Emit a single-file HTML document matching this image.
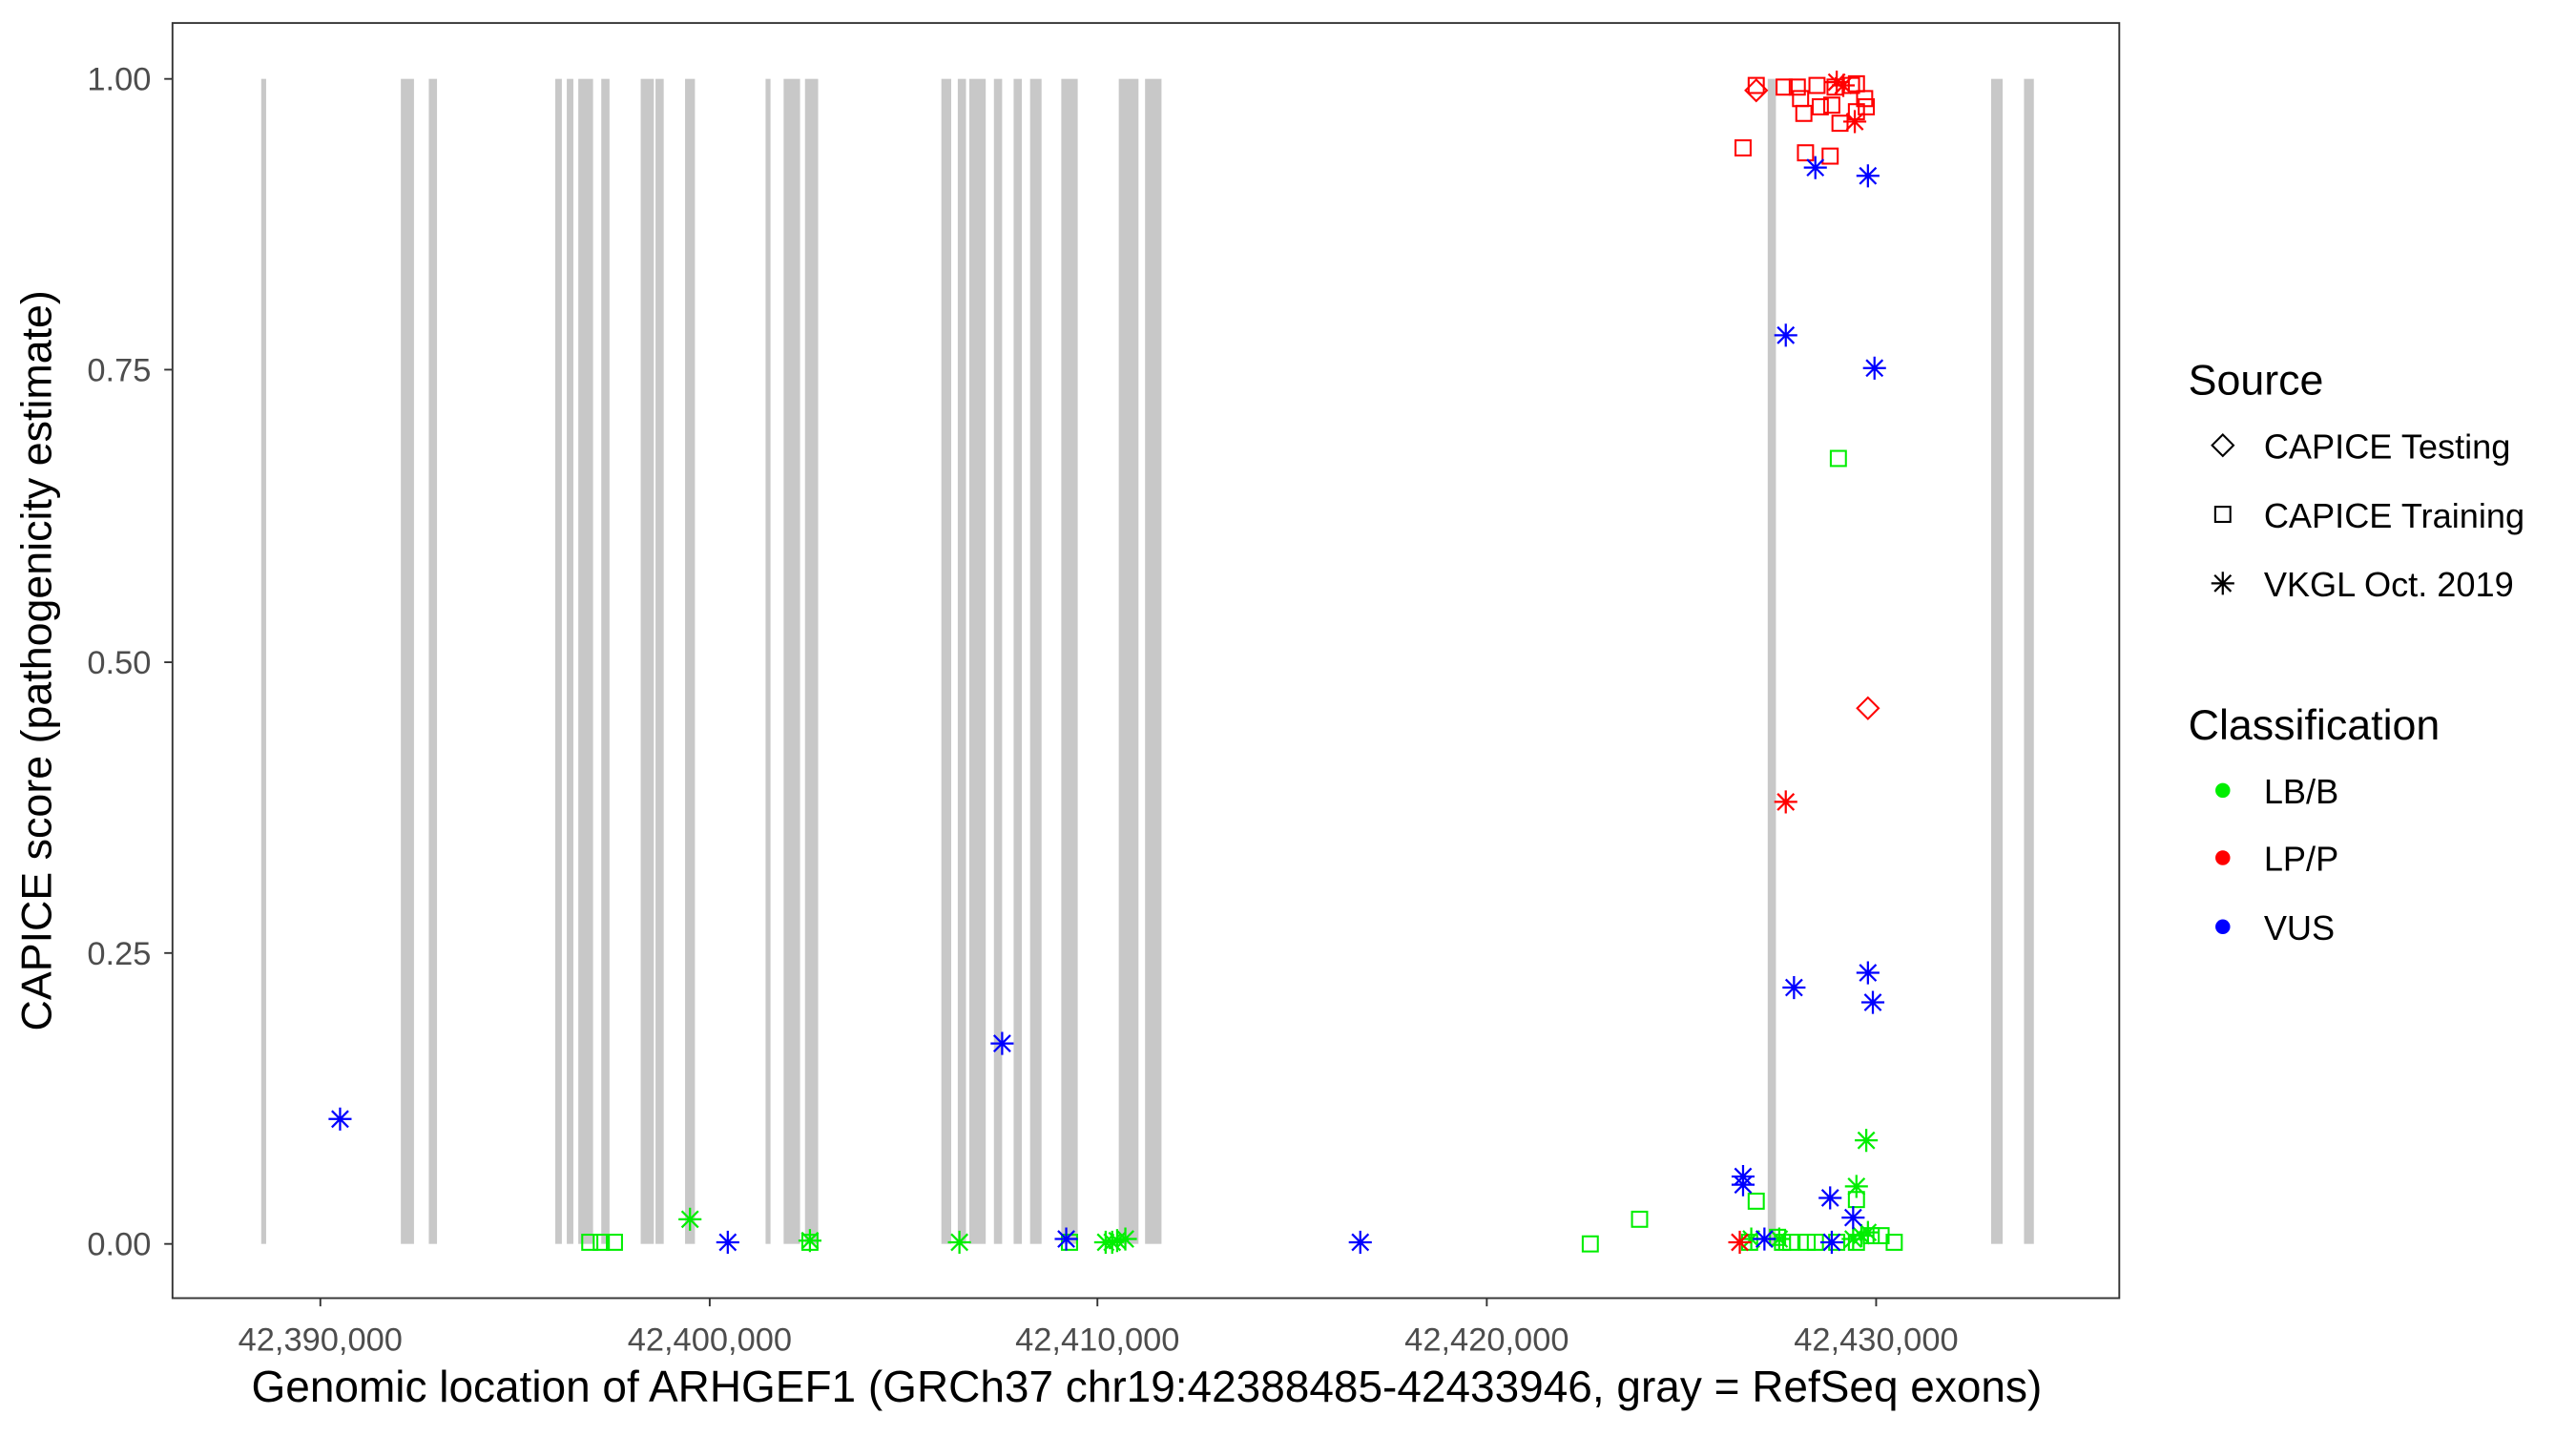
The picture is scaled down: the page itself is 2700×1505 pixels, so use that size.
<!DOCTYPE html>
<html><head><style>html,body{margin:0;padding:0;background:#fff}</style></head>
<body>
<svg width="2700" height="1500" viewBox="0 0 1568 871" preserveAspectRatio="none" xmlns="http://www.w3.org/2000/svg" font-family="Liberation Sans, sans-serif">
<defs>
<g id="ast"><path d="M-7,0H7M0,-7V7M-5,-5L5,5M-5,5L5,-5" stroke-width="1.3" fill="none"/></g>
<g id="sq"><rect x="-4.6" y="-4.6" width="9.2" height="9.2" fill="none" stroke-width="1.2"/></g>
<g id="dm"><path d="M0,-6.5L6.5,0L0,6.5L-6.5,0Z" fill="none" stroke-width="1.2"/></g>
</defs>
<rect x="105" y="14" width="1185" height="776" fill="#fff" stroke="#333" stroke-width="1.1"/>
<g fill="#c8c8c8">
<rect x="159" y="48" width="3" height="709"/>
<rect x="244" y="48" width="8" height="709"/>
<rect x="261" y="48" width="5" height="709"/>
<rect x="338" y="48" width="4" height="709"/>
<rect x="345" y="48" width="4" height="709"/>
<rect x="352" y="48" width="9" height="709"/>
<rect x="366" y="48" width="5" height="709"/>
<rect x="390" y="48" width="8" height="709"/>
<rect x="399" y="48" width="5" height="709"/>
<rect x="417" y="48" width="6" height="709"/>
<rect x="466" y="48" width="3" height="709"/>
<rect x="477" y="48" width="10" height="709"/>
<rect x="490" y="48" width="8" height="709"/>
<rect x="573" y="48" width="6" height="709"/>
<rect x="583" y="48" width="5" height="709"/>
<rect x="590" y="48" width="10" height="709"/>
<rect x="605" y="48" width="5" height="709"/>
<rect x="617" y="48" width="5" height="709"/>
<rect x="627" y="48" width="7" height="709"/>
<rect x="646" y="48" width="10" height="709"/>
<rect x="681" y="48" width="12" height="709"/>
<rect x="697" y="48" width="10" height="709"/>
<rect x="1076" y="48" width="5" height="709"/>
<rect x="1212" y="48" width="7" height="709"/>
<rect x="1232" y="48" width="6" height="709"/>
</g>
<g stroke="#333" stroke-width="1.1">
<path d="M100,48H105M100,225H105M100,403H105M100,580H105M100,757H105"/>
<path d="M195,790V795M432,790V795M668,790V795M905,790V795M1142,790V795"/>
</g>
<g fill="#4d4d4d" font-size="20" text-anchor="end">
<text x="92" y="55">1.00</text><text x="92" y="232">0.75</text><text x="92" y="410">0.50</text><text x="92" y="587">0.25</text><text x="92" y="764">0.00</text>
</g>
<g fill="#4d4d4d" font-size="20" text-anchor="middle">
<text x="195" y="822">42,390,000</text><text x="432" y="822">42,400,000</text><text x="668" y="822">42,410,000</text><text x="905" y="822">42,420,000</text><text x="1142" y="822">42,430,000</text>
</g>
<text x="698" y="853" font-size="26.7" text-anchor="middle">Genomic location of ARHGEF1 (GRCh37 chr19:42388485-42433946, gray = RefSeq exons)</text>
<text transform="translate(31,402) rotate(-90)" font-size="26" text-anchor="middle">CAPICE score (pathogenicity estimate)</text>
<g stroke="#00ee00">
<use href="#sq" x="359" y="756"/><use href="#sq" x="366" y="756"/><use href="#sq" x="374" y="756"/><use href="#sq" x="493" y="756"/><use href="#sq" x="651" y="756"/><use href="#sq" x="968" y="757"/><use href="#sq" x="998" y="742"/><use href="#sq" x="1069" y="731"/><use href="#sq" x="1119" y="279"/><use href="#sq" x="1130" y="730"/><use href="#sq" x="1082" y="753"/><use href="#sq" x="1090" y="756"/><use href="#sq" x="1100" y="756"/><use href="#sq" x="1105" y="756"/><use href="#sq" x="1118" y="756"/><use href="#sq" x="1130" y="756"/><use href="#sq" x="1139" y="752"/><use href="#sq" x="1145" y="752"/><use href="#sq" x="1153" y="756"/><use href="#sq" x="1085" y="756"/><use href="#sq" x="1065" y="756"/>
<use href="#ast" x="420" y="742"/><use href="#ast" x="493" y="755"/><use href="#ast" x="584" y="756"/><use href="#ast" x="673" y="756"/><use href="#ast" x="680" y="755"/><use href="#ast" x="685" y="754"/><use href="#ast" x="677" y="756"/><use href="#ast" x="1136" y="694"/><use href="#ast" x="1130" y="722"/><use href="#ast" x="1128" y="754"/><use href="#ast" x="1133" y="752"/><use href="#ast" x="1137" y="750"/><use href="#ast" x="1066" y="754"/><use href="#ast" x="1083" y="754"/>
</g>
<g stroke="#ff0000">
<use href="#sq" x="1069" y="52"/><use href="#sq" x="1086" y="53"/><use href="#sq" x="1094" y="53"/><use href="#sq" x="1106" y="52"/><use href="#sq" x="1117" y="53"/><use href="#sq" x="1127" y="52"/><use href="#sq" x="1130" y="51"/><use href="#sq" x="1096" y="60"/><use href="#sq" x="1098" y="69"/><use href="#sq" x="1108" y="65"/><use href="#sq" x="1115" y="64"/><use href="#sq" x="1135" y="60"/><use href="#sq" x="1136" y="65"/><use href="#sq" x="1130" y="68"/><use href="#sq" x="1120" y="75"/><use href="#sq" x="1061" y="90"/><use href="#sq" x="1099" y="93"/><use href="#sq" x="1114" y="95"/>
<use href="#dm" x="1069" y="55"/><use href="#dm" x="1137" y="431"/>
<use href="#ast" x="1087" y="488"/><use href="#ast" x="1118" y="50"/><use href="#ast" x="1122" y="52"/><use href="#ast" x="1129" y="74"/><use href="#ast" x="1059" y="756"/>
</g>
<g stroke="#0000ff">
<use href="#ast" x="207" y="681"/><use href="#ast" x="610" y="635"/><use href="#ast" x="443" y="756"/><use href="#ast" x="649" y="754"/><use href="#ast" x="828" y="756"/><use href="#ast" x="1105" y="102"/><use href="#ast" x="1137" y="107"/><use href="#ast" x="1087" y="204"/><use href="#ast" x="1141" y="224"/><use href="#ast" x="1092" y="601"/><use href="#ast" x="1137" y="592"/><use href="#ast" x="1140" y="610"/><use href="#ast" x="1061" y="716"/><use href="#ast" x="1061" y="721"/><use href="#ast" x="1074" y="754"/><use href="#ast" x="1114" y="729"/><use href="#ast" x="1128" y="741"/><use href="#ast" x="1115" y="756"/>
</g>
<text x="1332" y="240" font-size="26">Source</text>
<g stroke="#000"><use href="#dm" x="1353" y="271"/><use href="#sq" x="1353" y="313"/><use href="#ast" x="1353" y="355"/></g>
<g font-size="21"><text x="1378" y="279">CAPICE Testing</text><text x="1378" y="321">CAPICE Training</text><text x="1378" y="363">VKGL Oct. 2019</text></g>
<text x="1332" y="450" font-size="26">Classification</text>
<circle cx="1353" cy="481" r="4.5" fill="#00ee00"/><circle cx="1353" cy="522" r="4.5" fill="#ff0000"/><circle cx="1353" cy="564" r="4.5" fill="#0000ff"/>
<g font-size="21"><text x="1378" y="489">LB/B</text><text x="1378" y="530">LP/P</text><text x="1378" y="572">VUS</text></g>
</svg>
</body></html>
